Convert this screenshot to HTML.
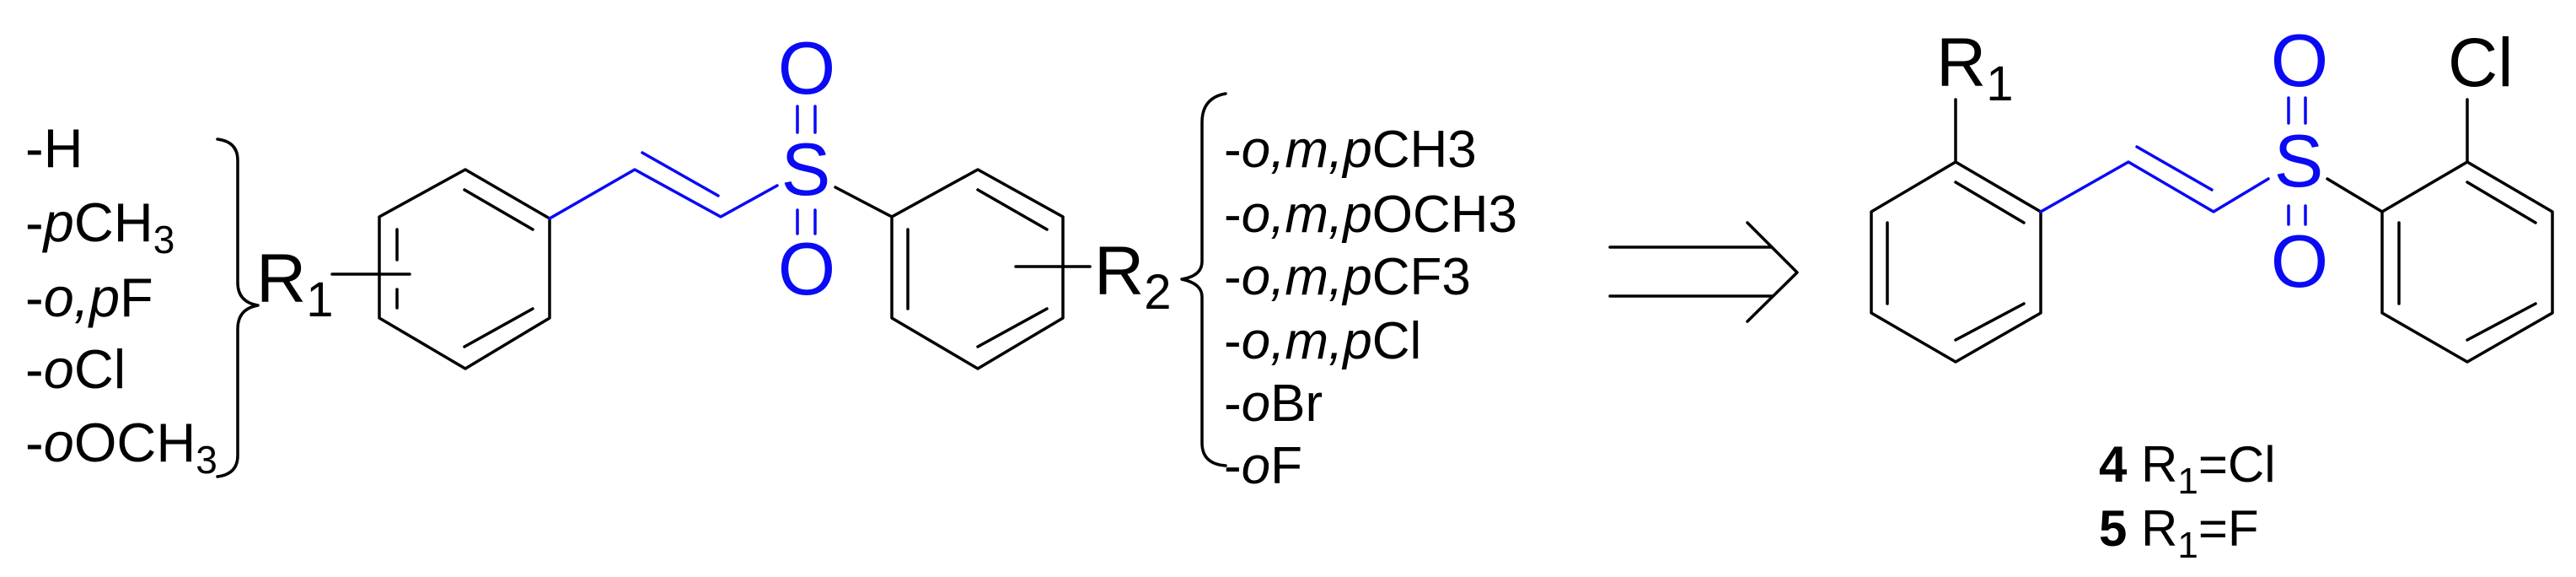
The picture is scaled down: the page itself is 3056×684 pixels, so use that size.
<!DOCTYPE html>
<html><head><meta charset="utf-8"><style>
html,body{margin:0;padding:0;background:#fff;}
svg{display:block;}
text{font-family:"Liberation Sans",Arial,sans-serif;}
</style></head><body>
<svg width="3056" height="684" viewBox="0 0 3056 684" xmlns="http://www.w3.org/2000/svg">
<g fill="none" stroke="#000" stroke-width="3.5" stroke-linecap="round" stroke-linejoin="round">
 <polygon points="552,201 652,259 652,377 552,437 450,377 450,257"/>
 <line x1="551" y1="225" x2="632" y2="272"/>
 <line x1="471" y1="272" x2="471" y2="308"/>
 <line x1="471" y1="343" x2="471" y2="365"/>
 <line x1="551" y1="411" x2="632" y2="366"/>
 <line x1="394" y1="325" x2="486" y2="325"/>
 <path d="M258,165 Q282,168 282,190 L282,335 Q282,358 306,362 Q282,366 282,390 L282,540 Q282,562 258,565"/>
 <polygon points="1058,257 1160,201 1261,257 1261,377 1160,437 1058,377"/>
 <line x1="1077" y1="272" x2="1077" y2="366"/>
 <line x1="1160" y1="225" x2="1242" y2="272"/>
 <line x1="1160" y1="411" x2="1242" y2="366"/>
 <line x1="1205" y1="316" x2="1293" y2="316"/>
 <line x1="991" y1="222" x2="1058" y2="257"/>
 <path d="M1454,111 Q1426,116 1426,145 L1426,310 Q1426,327 1402,331 Q1426,336 1426,352 L1426,525 Q1426,550 1454,552"/>
 <line x1="1910" y1="293" x2="2102" y2="293"/>
 <line x1="1910" y1="351" x2="2102" y2="351"/>
 <polyline points="2073,264 2132,323 2073,381"/>
 <polygon points="2320,192 2421,251 2421,371 2320,429 2220,371 2220,251"/>
 <line x1="2320" y1="216" x2="2401" y2="264"/>
 <line x1="2239" y1="264" x2="2239" y2="360"/>
 <line x1="2320" y1="403" x2="2401" y2="360"/>
 <line x1="2320" y1="192" x2="2320" y2="118"/>
 <polygon points="2826,251 2927,192 3028,251 3028,371 2927,429 2826,371"/>
 <line x1="2846" y1="264" x2="2846" y2="360"/>
 <line x1="2927" y1="216" x2="3008" y2="264"/>
 <line x1="2927" y1="403" x2="3008" y2="360"/>
 <line x1="2927" y1="192" x2="2927" y2="118"/>
 <line x1="2761" y1="212" x2="2826" y2="251"/>
</g>
<g fill="none" stroke="#0a0af5" stroke-width="3.5" stroke-linecap="round" stroke-linejoin="round">
 <polyline points="652,259 753,201 855,257 922,220"/>
 <line x1="762" y1="181" x2="852" y2="232"/>
 <line x1="946" y1="126" x2="946" y2="157"/><line x1="967" y1="126" x2="967" y2="157"/>
 <line x1="946" y1="249" x2="946" y2="277"/><line x1="967" y1="249" x2="967" y2="277"/>
 <polyline points="2421,251 2525,192 2626,251 2691,212"/>
 <line x1="2535" y1="174" x2="2624" y2="225"/>
 <line x1="2715" y1="116" x2="2715" y2="146"/><line x1="2735" y1="116" x2="2735" y2="146"/>
 <line x1="2715" y1="244" x2="2715" y2="266"/><line x1="2735" y1="244" x2="2735" y2="266"/>
</g>
<g fill="#0a0af5" font-size="88" text-anchor="middle">
 <text x="957" y="111">O</text><text x="956" y="231">S</text><text x="957" y="349">O</text>
 <text x="2728" y="102">O</text><text x="2727" y="221">S</text><text x="2728" y="340">O</text>
</g>
<g fill="#000" font-size="65">
 <text x="30" y="198">-H</text>
 <text x="30" y="286">-<tspan font-style="italic">p</tspan>CH<tspan font-size="46" dy="14">3</tspan></text>
 <text x="30" y="375">-<tspan font-style="italic">o,p</tspan>F</text>
 <text x="30" y="460">-<tspan font-style="italic">o</tspan>Cl</text>
 <text x="30" y="547">-<tspan font-style="italic">o</tspan>OCH<tspan font-size="46" dy="14">3</tspan></text>
</g>
<g fill="#000" font-size="62">
 <text x="1452" y="198">-<tspan font-style="italic">o,m,p</tspan>CH3</text>
 <text x="1452" y="275">-<tspan font-style="italic">o,m,p</tspan>OCH3</text>
 <text x="1452" y="349">-<tspan font-style="italic">o,m,p</tspan>CF3</text>
 <text x="1452" y="425">-<tspan font-style="italic">o,m,p</tspan>Cl</text>
 <text x="1452" y="499">-<tspan font-style="italic">o</tspan>Br</text>
 <text x="1452" y="573">-<tspan font-style="italic">o</tspan>F</text>
</g>
<g fill="#000" font-size="82">
 <text x="304" y="358">R<tspan font-size="58" dy="17">1</tspan></text>
 <text x="1298" y="349">R<tspan font-size="58" dy="17">2</tspan></text>
 <text x="2297" y="102">R<tspan font-size="58" dy="17">1</tspan></text>
 <text x="2904" y="102">Cl</text>
</g>
<g fill="#000" font-size="60">
 <text x="2490" y="571"><tspan font-weight="bold">4</tspan> R<tspan font-size="44" dy="14">1</tspan><tspan dy="-14">=Cl</tspan></text>
 <text x="2490" y="647"><tspan font-weight="bold">5</tspan> R<tspan font-size="44" dy="14">1</tspan><tspan dy="-14">=F</tspan></text>
</g>
</svg>
</body></html>
